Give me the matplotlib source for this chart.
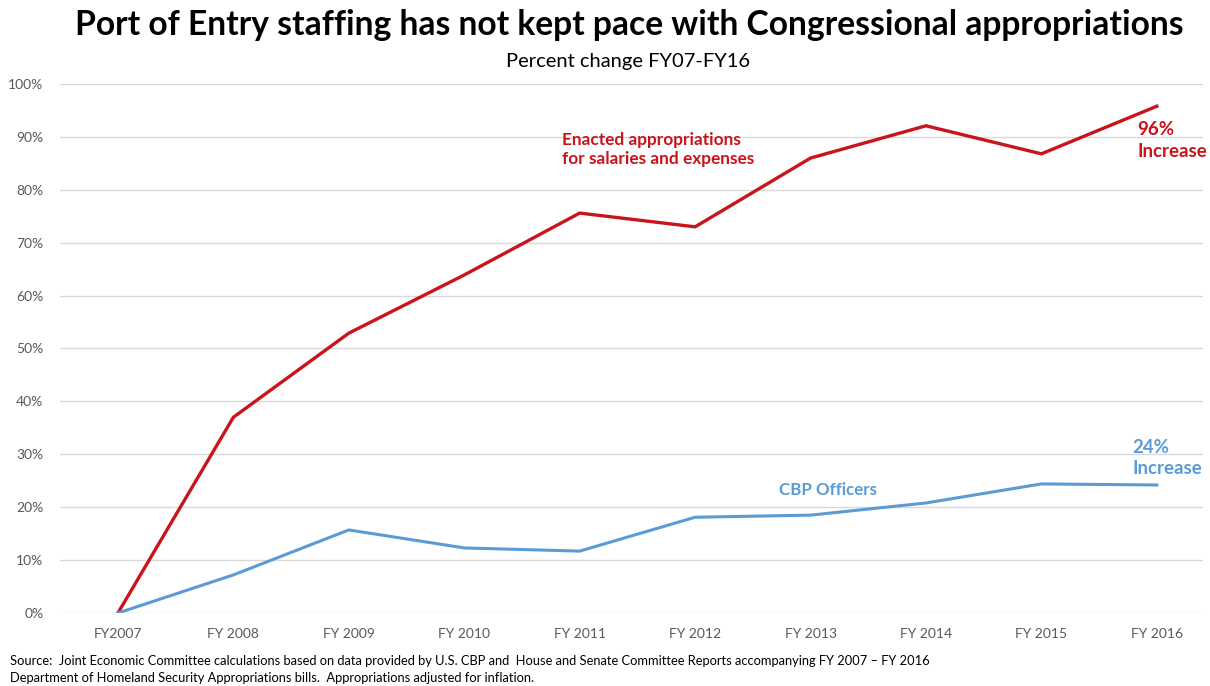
import matplotlib
matplotlib.use("Agg")
import matplotlib.pyplot as plt

years = ["FY2007", "FY 2008", "FY 2009", "FY 2010", "FY 2011", "FY 2012",
         "FY 2013", "FY 2014", "FY 2015", "FY 2016"]
appropriations = [0, 37.0, 52.9, 63.9, 75.6, 73.0, 86.0, 92.1, 86.8, 95.8]
cbp_officers = [0, 7.2, 15.7, 12.3, 11.7, 18.1, 18.5, 20.8, 24.4, 24.2]
yticks = [0, 10, 20, 30, 40, 50, 60, 70, 80, 90, 100]

RED = "#C9141B"
BLUE = "#5B9BD5"
FONT = ["Lato", "DejaVu Sans"]
plt.rcParams['font.family'] = FONT

fig = plt.figure(figsize=(12.10, 6.86), dpi=100)
ax = fig.add_axes([60/1210, 1-613/686, 1143/1210, (613-84)/686])

x = list(range(len(years)))
ax.plot(x, appropriations, color=RED, lw=2.4, solid_joinstyle='miter')
ax.plot(x, cbp_officers, color=BLUE, lw=2.2, solid_joinstyle='miter')

ax.set_ylim(0, 100)
ax.set_xlim(-0.502, 9.40)
ax.set_yticks(yticks)
ax.set_yticklabels([f"{v}%" for v in yticks])
ax.set_xticks(x)
ax.set_xticklabels(years)
ax.grid(axis='y', color="#D9D9D9", lw=1)
ax.set_axisbelow(True)
for s in ax.spines.values():
    s.set_visible(False)
ax.tick_params(axis='both', length=0, colors="#595959", labelsize=10)
ax.tick_params(axis='y', pad=12)
ax.tick_params(axis='x', pad=11)

fig.text(0.52, 1-25/686, "Port of Entry staffing has not kept pace with Congressional appropriations",
         ha='center', va='center', fontsize=24.2, fontweight='bold', color='black')
fig.text(0.519, 1-61/686, "Percent change FY07-FY16", ha='center', va='center',
         fontsize=14.5, color='black')

ax.text(3.85, 87.6, "Enacted appropriations\nfor salaries and expenses", color=RED,
        fontsize=12.4, fontweight='bold', ha='left', va='center', linespacing=1.25)
ax.text(8.83, 89.3, "96%\nIncrease", color=RED, fontsize=13.4, fontweight='bold',
        ha='left', va='center', linespacing=1.35)
ax.text(8.79, 29.3, "24%\nIncrease", color=BLUE, fontsize=13.4, fontweight='bold',
        ha='left', va='center', linespacing=1.35)
ax.text(5.73, 23.2, "CBP Officers", color=BLUE, fontsize=12.2, fontweight='bold',
        ha='left', va='center')

fig.text(10/1210, 1-661/686,
         "Source:  Joint Economic Committee calculations based on data provided by U.S. CBP and  House and Senate Committee Reports accompanying FY 2007 \u2013 FY 2016",
         ha='left', va='center', fontsize=9.3, color='black')
fig.text(10/1210, 1-678/686,
         "Department of Homeland Security Appropriations bills.  Appropriations adjusted for inflation.",
         ha='left', va='center', fontsize=9.3, color='black')

fig.savefig("out.png", dpi=100)
